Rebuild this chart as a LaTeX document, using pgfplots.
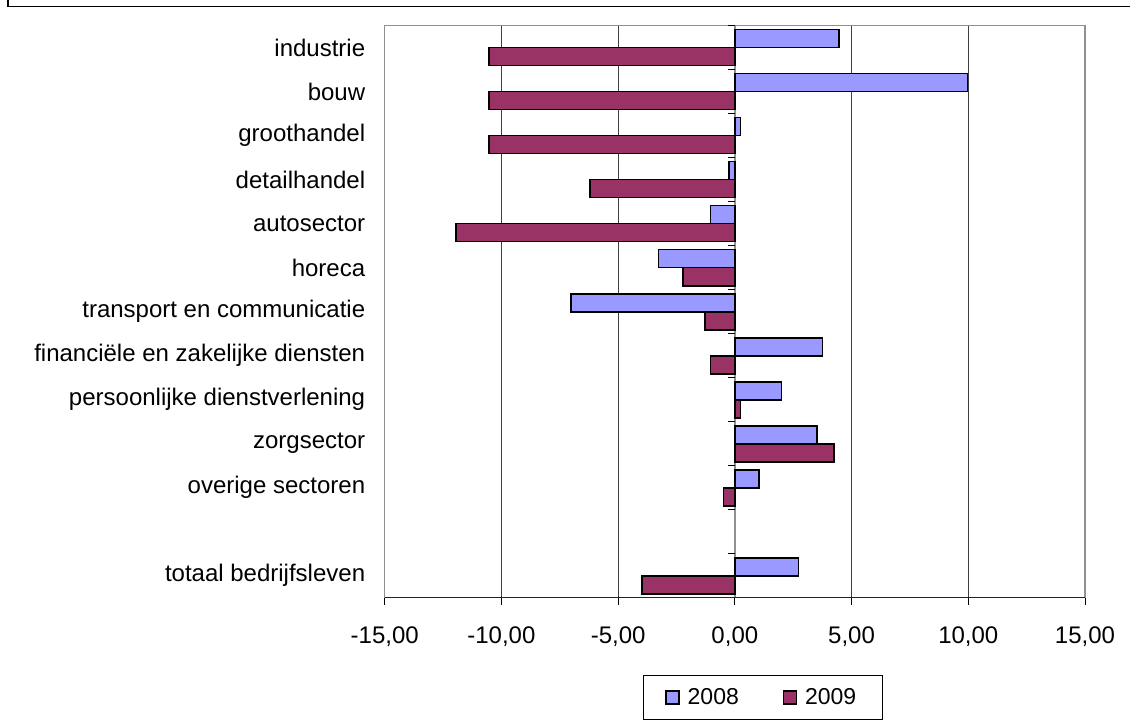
\documentclass[border=0pt]{standalone}
\usepackage{fontspec}
\setmainfont{Liberation Sans}
\usepackage{pgfplots}
\pgfplotsset{compat=1.18}
\definecolor{c2008}{HTML}{9999FF}
\definecolor{c2009}{HTML}{993366}
\definecolor{gridc}{HTML}{404040}
\definecolor{framec}{HTML}{909090}

\newcommand{\lbl}{\fontsize{24}{28}\selectfont}

\begin{document}
\begin{tikzpicture}[x=1pt,y=1pt]
\path[use as bounding box] (0,0) rectangle (1130,721);
\draw[black, line width=1.5pt] (8,721) -- (8,714.5) -- (1130,714.5);
\begin{axis}[
    at={(384.7pt,123.3pt)}, anchor=south west,
    scale only axis, width=700.3pt, height=572pt,
    xbar, bar width=18pt,
    xmin=-15, xmax=15, ymin=0.5, ymax=13.5,
    xtick={-15,-10,...,15},
    ytick={1,3,4,5,6,7,8,9,10,11,12,13},
    yticklabels={totaal bedrijfsleven, overige sectoren, zorgsector,
        persoonlijke dienstverlening, financiële en zakelijke diensten,
        transport en communicatie, horeca, autosector, detailhandel,
        groothandel, bouw, industrie},
    xmajorgrids, grid style={gridc, line width=1pt},
    axis line style={framec, line width=1.5pt},
    tick align=outside, major tick length=7pt,
    xtick pos=bottom, ytick pos=left,
    xtick style={black, line width=1pt},
    ytick style={draw=none},
    ticklabel style={font=\lbl},
    yticklabel style={xshift=-9pt},
    xticklabel style={yshift=-19pt},
    /pgf/number format/.cd, fixed, fixed zerofill, precision=2, use comma,
        1000 sep={}, assume math mode=true,
    /pgfplots/.cd,
    legend columns=2,
    legend style={at={(0.540,-0.1745)}, anchor=center, draw=black,
        line width=1pt, font=\fontsize{23}{27}\selectfont,
        inner xsep=22pt, inner ysep=9pt,
        nodes={inner sep=4pt},
        /tikz/every odd column/.append style={column sep=4pt},
        /tikz/every even column/.append style={column sep=40pt}},
]
\draw[framec, line width=1.5pt] (axis cs:0,0.5) -- (axis cs:0,13.5);
\pgfplotsinvokeforeach{0.5,1.5,...,13.5}{
    \draw[black, line width=1pt] (axis cs:0,#1) -- ++(-7pt,0pt);
}
\addplot[fill=c2008, draw=black, line width=1.6pt, bar shift=9pt,
    legend image code/.code={\draw[fill=c2008, draw=black, line width=1.2pt] (0pt,-6.5pt) rectangle (13pt,6.5pt);}]
    coordinates {
    (4.47,13) (9.97,12) (0.24,11) (-0.24,10) (-1.04,9) (-3.27,8)
    (-7.02,7) (3.75,6) (2.00,5) (3.52,4) (1.04,3) (2.73,1)
};
\addplot[fill=c2009, draw=black, line width=1.6pt, bar shift=-9pt,
    legend image code/.code={\draw[fill=c2009, draw=black, line width=1.2pt] (0pt,-6.5pt) rectangle (13pt,6.5pt);}]
    coordinates {
    (-10.53,13) (-10.53,12) (-10.53,11) (-6.21,10) (-11.94,9) (-2.23,8)
    (-1.28,7) (-1.04,6) (0.24,5) (4.24,4) (-0.48,3) (-3.98,1)
};
\draw[black!85, line width=1.3pt] (rel axis cs:0,0) -- (rel axis cs:1,0);
\legend{2008,2009}
\end{axis}
\end{tikzpicture}
\end{document}
